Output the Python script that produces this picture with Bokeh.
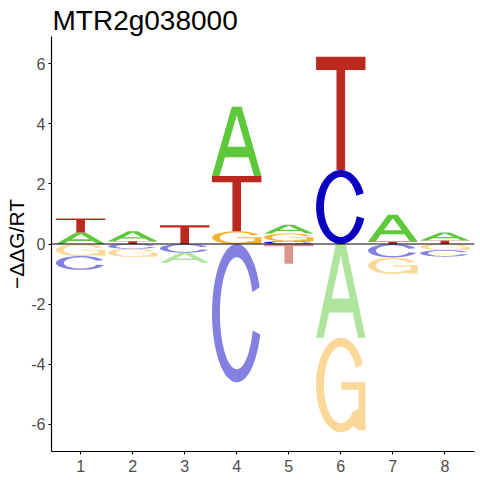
import numpy as np
from bokeh.plotting import figure
from bokeh.models import Span, FixedTicker, Range1d, ColumnDataSource
from bokeh.embed import file_html
from bokeh.resources import INLINE

# ---------------- data ----------------
title_text = "MTR2g038000"
y_label_text = "\u2212\u0394\u0394G/RT"
positions = [1, 2, 3, 4, 5, 6, 7, 8]
letters = ["A", "C", "G", "T"]
A_vals = [0.38, 0.33, -0.33, 2.30, 0.29, -3.12, 0.89, 0.265]
C_vals = [-0.46, -0.16, -0.29, -4.60, 0.09, 2.46, -0.445, -0.22]
G_vals = [-0.40, -0.27, 0.0, 0.425, 0.26, -3.14, -0.55, -0.20]
T_vals = [0.47, 0.09, 0.62, 1.84, -0.66, 3.77, 0.08, 0.12]
x_ticks = [1, 2, 3, 4, 5, 6, 7, 8]
y_ticks = [-6, -4, -2, 0, 2, 4, 6]
y_tick_labels = ["-6", "-4", "-2", "0", "2", "4", "6"]

values = {"A": A_vals, "C": C_vals, "G": G_vals, "T": T_vals}
base_colors = {"A": "#5DC83A", "C": "#0A00C2", "G": "#F5B331", "T": "#BA2A1E"}


def lighten(hexc, f=0.5):
    h = hexc.lstrip("#")
    r, g, b = (int(h[k:k + 2], 16) for k in (0, 2, 4))
    r, g, b = (round(c + (255 - c) * f) for c in (r, g, b))
    return "#%02X%02X%02X" % (r, g, b)


# ---------------- letter outlines in a unit box ----------------
def arc(t0, t1, rx, ry, n=70):
    t = np.radians(np.linspace(t0, t1, n))
    return list(0.5 + rx * np.cos(t)), list(0.5 + ry * np.sin(t))


def shape_A():
    outer = ([0, 0.15, 0.262, 0.738, 0.85, 1, 0.6, 0.4],
             [0, 0, 0.27, 0.27, 0, 0, 1, 1])
    hole = ([0.318, 0.682, 0.5], [0.42, 0.42, 0.875])
    return [[outer, hole]]


def shape_C():
    ox, oy = arc(22, 342, 0.5, 0.5)
    ix, iy = arc(342, 22, 0.34, 0.405)
    return [[(ox + ix, oy + iy)]]


def shape_G():
    ox, oy = arc(26, 300, 0.5, 0.5)
    ix, iy = arc(315, 26, 0.34, 0.405)
    mx = [0.86, 1.0, 1.0, 0.51, 0.51, 0.86, 0.86]
    my = [0.02, 0.02, 0.53, 0.53, 0.45, 0.45, 0.25]
    return [[(ox + mx + ix, oy + my + iy)]]


def shape_T():
    return [[([0, 1, 1, 0.587, 0.587, 0.413, 0.413, 0],
              [1, 1, 0.883, 0.883, 0, 0, 0.883, 0.883])]]


shapes = {"A": shape_A(), "C": shape_C(), "G": shape_G(), "T": shape_T()}
col_width = 0.95

xs_all, ys_all, cols = [], [], []


def add_letter(L, pos, y0, y1, color):
    mp_x, mp_y = [], []
    for poly in shapes[L]:
        rx_list, ry_list = [], []
        for ux, uy in poly:
            rx_list.append([pos - col_width / 2 + col_width * u for u in ux])
            ry_list.append([y0 + (y1 - y0) * u for u in uy])
        mp_x.append(rx_list)
        mp_y.append(ry_list)
    xs_all.append(mp_x)
    ys_all.append(mp_y)
    cols.append(color)


for i, pos in enumerate(positions):
    vals = [(L, values[L][i]) for L in letters]
    pos_l = sorted([t for t in vals if t[1] > 0], key=lambda t: t[1])
    neg_l = sorted([t for t in vals if t[1] < 0], key=lambda t: abs(t[1]))
    cum = 0.0
    for L, v in pos_l:
        add_letter(L, pos, cum, cum + v, base_colors[L])
        cum += v
    cum = 0.0
    for L, v in neg_l:
        add_letter(L, pos, cum - abs(v), cum, lighten(base_colors[L]))
        cum -= abs(v)

src = ColumnDataSource(dict(xs=xs_all, ys=ys_all, color=cols))

# ---------------- figure ----------------
p = figure(width=478, height=478, title=title_text,
           x_range=Range1d(0.44, 8.57), y_range=Range1d(-6.9, 6.9),
           output_backend="svg", toolbar_location=None,
           min_border_left=51, min_border_right=4,
           min_border_top=36, min_border_bottom=27)
p.outline_line_color = None
p.background_fill_color = "white"
p.border_fill_color = "white"
p.grid.visible = False

p.title.text_font = "Liberation Sans"
p.title.text_font_size = "28px"
p.title.text_font_style = "normal"
p.title.text_color = "black"
p.title.align = "left"
p.title.offset = 1
p.title.standoff = 2

p.multi_polygons(xs="xs", ys="ys", fill_color="color", line_color=None, source=src)

p.add_layout(Span(location=0, dimension="width", line_color="black", line_width=1.2))

for ax in (p.xaxis[0], p.yaxis[0]):
    ax.axis_line_color = "black"
    ax.axis_line_width = 1.2
    ax.major_tick_line_color = "black"
    ax.major_tick_line_width = 1.1
    ax.major_tick_out = 3
    ax.major_tick_in = 0
    ax.minor_tick_line_color = None
    ax.major_label_text_font = "Liberation Sans"
    ax.major_label_text_font_size = "16px"
    ax.major_label_text_color = "#4D4D4D"

p.xaxis.ticker = FixedTicker(ticks=x_ticks)
p.yaxis.ticker = FixedTicker(ticks=y_ticks)
p.yaxis.major_label_overrides = {t: s for t, s in zip(y_ticks, y_tick_labels)}
p.xaxis.major_label_standoff = 5
p.yaxis.major_label_standoff = 3

p.yaxis.axis_label = y_label_text
p.yaxis.axis_label_text_font = "Liberation Sans"
p.yaxis.axis_label_text_font_size = "21px"
p.yaxis.axis_label_text_font_style = "normal"
p.yaxis.axis_label_text_color = "black"
p.yaxis.axis_label_standoff = 0

open("out.html", "w").write(file_html(p, INLINE))
